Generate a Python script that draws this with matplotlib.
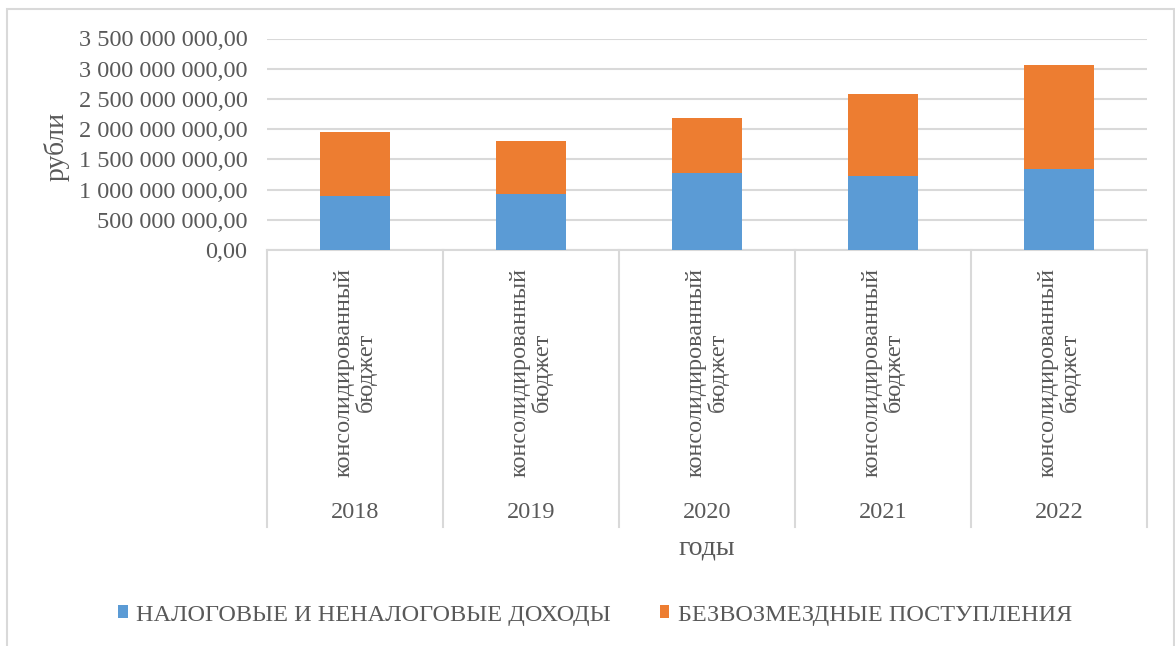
import matplotlib.pyplot as plt
from matplotlib.patches import Rectangle
from matplotlib.ticker import FuncFormatter, MultipleLocator

plt.rcParams['font.family'] = ['Liberation Serif', 'DejaVu Serif']

# --- Data ---
years = ["2018", "2019", "2020", "2021", "2022"]
category = "консолидированный\nбюджет"
tax_income = [894e6, 932e6, 1269e6, 1230e6, 1335e6]
gratuitous = [1054e6, 867e6, 910e6, 1357e6, 1721e6]
series_names = ["НАЛОГОВЫЕ И НЕНАЛОГОВЫЕ ДОХОДЫ", "БЕЗВОЗМЕЗДНЫЕ ПОСТУПЛЕНИЯ"]

blue = "#5b9bd5"
orange = "#ed7d31"
grid_c = "#d9d9d9"
text_c = "#595959"
fs = 17.5

fig = plt.figure(figsize=(11.75, 6.46), dpi=100)
ax = fig.add_axes([267 / 1175, 1 - 250 / 646, 880 / 1175, 211.5 / 646])

x = range(len(years))
ax.bar(x, tax_income, width=0.4, color=blue, label=series_names[0], zorder=3)
ax.bar(x, gratuitous, width=0.4, bottom=tax_income, color=orange,
       label=series_names[1], zorder=3)

ax.set_xlim(-0.5, len(years) - 0.5)
ax.set_ylim(0, 3.5e9)
ax.yaxis.set_major_locator(MultipleLocator(5e8))
ax.yaxis.set_major_formatter(FuncFormatter(
    lambda v, p: f"{v:,.2f}".replace(",", " ").replace(".", ",")))
ax.grid(axis="y", color=grid_c, linewidth=1.5, zorder=0)
ax.tick_params(axis="y", length=0, pad=14, labelsize=fs, labelcolor=text_c)
ax.set_xticks([])
for s in ["top", "right", "left"]:
    ax.spines[s].set_visible(False)
ax.spines["bottom"].set_color(grid_c)
ax.spines["bottom"].set_linewidth(1.5)
fig.text(57 / 1175, 1 - 146 / 646, "рубли", rotation=90, ha="center",
         va="center", fontsize=20, color=text_c)

# multi-level category axis
tr = ax.get_xaxis_transform()
scale = 211.5
for b in [i - 0.5 for i in range(len(years) + 1)]:
    ax.plot([b, b], [0, -(527 - 250) / scale], transform=tr, color=grid_c,
            linewidth=1.5, clip_on=False)
for i, yr in enumerate(years):
    ax.text(i, -(268 - 250) / scale, category, transform=tr, rotation=90,
            ha="center", va="top", multialignment="center", fontsize=fs,
            color=text_c, linespacing=1.0)
    ax.text(i, -(512 - 250) / scale, yr, transform=tr, ha="center",
            va="center", fontsize=fs, color=text_c)
ax.text(2, -(548 - 250) / scale, "годы", transform=tr, ha="center",
        va="center", fontsize=20, color=text_c)

fig.legend(loc="center", bbox_to_anchor=(595 / 1175, 1 - 615 / 646), ncol=2,
           frameon=False, fontsize=fs, labelcolor=text_c, handlelength=0.4,
           handleheight=0.45, handletextpad=0.35, columnspacing=2.0)

fig.add_artist(Rectangle((7 / 1175, -0.1), 1167 / 1175, 1.1 - 9 / 646,
                         transform=fig.transFigure, fill=False,
                         edgecolor=grid_c, linewidth=1.5))

fig.savefig("out.png", dpi=100)
